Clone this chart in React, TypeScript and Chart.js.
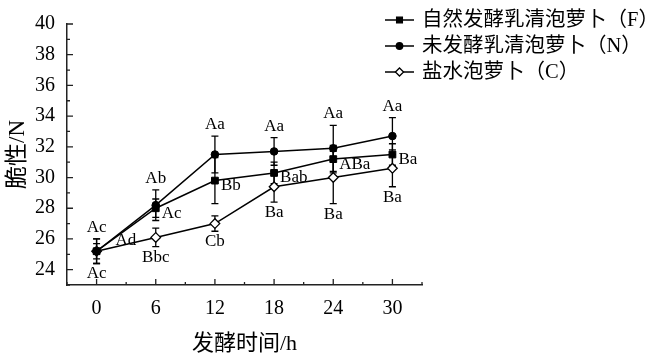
import React, { useEffect, useRef } from "react";
import { Chart, registerables } from "chart.js";

Chart.register(...registerables);

const hours = [0, 6, 12, 18, 24, 30];
const xTicks = [0, 6, 12, 18, 24, 30];
const yTicks = [24, 26, 28, 30, 32, 34, 36, 38, 40];

const seriesNames = ["自然发酵乳清泡萝卜（F）", "未发酵乳清泡萝卜（N）", "盐水泡萝卜（C）"];

const valuesF = [25.2, 28.0, 29.8, 30.3, 31.2, 31.5];
const valuesN = [25.2, 28.2, 31.5, 31.7, 31.9, 32.7];
const valuesC = [25.2, 26.1, 27.0, 29.4, 30.0, 30.6];

const errF = [0.5, 0.6, 1.5, 0.7, 0.9, 0.7];
const errN = [0.8, 1.0, 1.2, 0.9, 1.5, 1.2];
const errC = [0.8, 0.6, 0.5, 1.0, 1.7, 1.2];

const lettersF = ["Ad", "Ac", "Bb", "Bab", "ABa", "Ba"];
const lettersN = ["Ac", "Ab", "Aa", "Aa", "Aa", "Aa"];
const lettersC = ["Ac", "Bbc", "Cb", "Ba", "Ba", "Ba"];

const SERIF = '"Liberation Serif", "Noto Sans CJK SC", serif';

const errs = [errF, errN, errC];

const decorPlugin = {
  id: "decor",
  beforeDatasetsDraw(chart: any) {
    const ctx = chart.ctx;
    const xs = chart.scales.x;
    const ys = chart.scales.y;
    ctx.save();
    ctx.strokeStyle = "#000";
    ctx.lineWidth = 1.3;
    chart.data.datasets.forEach((ds: any, di: number) => {
      ds.data.forEach((p: any, i: number) => {
        const e = errs[di][i];
        const px = xs.getPixelForValue(p.x);
        const top = ys.getPixelForValue(p.y + e);
        const bot = ys.getPixelForValue(p.y - e);
        ctx.beginPath();
        ctx.moveTo(px, top);
        ctx.lineTo(px, bot);
        ctx.moveTo(px - 3.5, top);
        ctx.lineTo(px + 3.5, top);
        ctx.moveTo(px - 3.5, bot);
        ctx.lineTo(px + 3.5, bot);
        ctx.stroke();
      });
    });
    ctx.restore();
  },
  afterDraw(chart: any) {
    const ctx = chart.ctx;
    const xs = chart.scales.x;
    const ys = chart.scales.y;
    const area = chart.chartArea;
    ctx.save();
    ctx.strokeStyle = "#222";
    ctx.lineWidth = 1.3;
    ctx.beginPath();
    for (let v = -3; v <= 33; v += 3) {
      const px = xs.getPixelForValue(v);
      const len = v % 6 === 0 ? 6 : 3;
      ctx.moveTo(px, area.bottom);
      ctx.lineTo(px, area.bottom - len);
    }
    for (let v = 23; v <= 40; v += 1) {
      const py = ys.getPixelForValue(v);
      const len = v % 2 === 0 ? 6 : 3;
      ctx.moveTo(area.left, py);
      ctx.lineTo(area.left + len, py);
    }
    ctx.stroke();
    ctx.restore();

    ctx.save();
    ctx.fillStyle = "#000";
    ctx.font = "17px " + SERIF;
    chart.data.datasets[0].data.forEach((p: any, i: number) => {
      const px = xs.getPixelForValue(p.x);
      const py = ys.getPixelForValue(p.y);
      ctx.textAlign = "left";
      ctx.textBaseline = "middle";
      if (i === 0) ctx.fillText(lettersF[i], px + 19, py - 11);
      else ctx.fillText(lettersF[i], px + 6, py + 5);
    });
    chart.data.datasets[1].data.forEach((p: any, i: number) => {
      const px = xs.getPixelForValue(p.x);
      const py = ys.getPixelForValue(p.y + errN[i]);
      ctx.textAlign = "center";
      ctx.textBaseline = "bottom";
      ctx.fillText(lettersN[i], px, py - 3);
    });
    chart.data.datasets[2].data.forEach((p: any, i: number) => {
      const px = xs.getPixelForValue(p.x);
      const py = ys.getPixelForValue(p.y - errC[i]);
      ctx.textAlign = "center";
      ctx.textBaseline = "top";
      ctx.fillText(lettersC[i], px, py + 2);
    });
    ctx.restore();

    ctx.save();
    const rows = [20, 46, 72];
    chart.data.datasets.forEach((ds: any, di: number) => {
      const y = rows[di];
      ctx.strokeStyle = "#000";
      ctx.lineWidth = 1.5;
      ctx.beginPath();
      ctx.moveTo(385, y);
      ctx.lineTo(414, y);
      ctx.stroke();
      ctx.fillStyle = ds.pointBackgroundColor;
      ctx.lineWidth = 1.3;
      ctx.beginPath();
      const r = ds.pointRadius * 0.85;
      const cx = 399.5;
      if (ds.pointStyle === "rect") {
        const s = Math.SQRT1_2 * r;
        ctx.rect(cx - s, y - s, 2 * s, 2 * s);
      } else if (ds.pointStyle === "circle") {
        ctx.arc(cx, y, r, 0, Math.PI * 2);
      } else {
        ctx.moveTo(cx - r, y);
        ctx.lineTo(cx, y - r);
        ctx.lineTo(cx + r, y);
        ctx.lineTo(cx, y + r);
        ctx.closePath();
      }
      ctx.fill();
      ctx.stroke();
      ctx.fillStyle = "#000";
      ctx.font = "20.5px " + SERIF;
      ctx.textAlign = "left";
      ctx.textBaseline = "middle";
      ctx.fillText(ds.label, 422, y + 1);
    });
    ctx.restore();
  },
};

export default function App() {
  const ref = useRef<HTMLCanvasElement>(null);
  useEffect(() => {
    document.body.style.margin = "0";
    const mk = (vals: number[]) => vals.map((v, i) => ({ x: hours[i], y: v }));
    const chart = new Chart(ref.current as HTMLCanvasElement, {
      type: "line",
      data: {
        datasets: [
          {
            label: seriesNames[0],
            data: mk(valuesF),
            borderColor: "#000",
            borderWidth: 1.5,
            pointStyle: "rect",
            pointRadius: 4.8,
            pointBackgroundColor: "#000",
            pointBorderColor: "#000",
            pointBorderWidth: 1,
          },
          {
            label: seriesNames[1],
            data: mk(valuesN),
            borderColor: "#000",
            borderWidth: 1.5,
            pointStyle: "circle",
            pointRadius: 3.8,
            pointBackgroundColor: "#000",
            pointBorderColor: "#000",
            pointBorderWidth: 1,
          },
          {
            label: seriesNames[2],
            data: mk(valuesC),
            borderColor: "#000",
            borderWidth: 1.5,
            pointStyle: "rectRot",
            pointRadius: 4.8,
            pointBackgroundColor: "#fff",
            pointBorderColor: "#000",
            pointBorderWidth: 1.3,
          },
        ] as any,
      },
      options: {
        animation: false,
        responsive: false,
        devicePixelRatio: 1,
        layout: { padding: { left: 0, top: 11, right: 239, bottom: 0 } },
        plugins: { legend: { display: false }, tooltip: { enabled: false } },
        elements: { line: { tension: 0 } },
        scales: {
          x: {
            type: "linear",
            min: -3,
            max: 33,
            afterBuildTicks: (s: any) => {
              s.ticks = xTicks.map((v) => ({ value: v }));
            },
            afterFit: (s: any) => {
              s.height = 72;
            },
            grid: { display: false, drawTicks: false },
            border: { display: true, color: "#222", width: 1.5 },
            ticks: {
              color: "#000",
              font: { family: SERIF, size: 20 },
              padding: 12,
              maxRotation: 0,
            },
            title: {
              display: true,
              text: "发酵时间/h",
              color: "#000",
              font: { family: SERIF, size: 22 },
              padding: { top: 2, bottom: 0 },
            },
          },
          y: {
            type: "linear",
            min: 23,
            max: 40,
            afterBuildTicks: (s: any) => {
              s.ticks = yTicks.map((v) => ({ value: v }));
            },
            afterFit: (s: any) => {
              s.width = 67;
            },
            grid: { display: false, drawTicks: false },
            border: { display: true, color: "#222", width: 1.5 },
            ticks: {
              color: "#000",
              font: { family: SERIF, size: 20 },
              padding: 12,
            },
            title: {
              display: true,
              text: "脆性/N",
              color: "#000",
              font: { family: SERIF, size: 23 },
              padding: { top: 4, bottom: 0 },
            },
          },
        },
      } as any,
      plugins: [decorPlugin],
    });
    return () => chart.destroy();
  }, []);
  return (
    <div style={{ position: "absolute", left: 0, top: 0, width: 661, height: 357, background: "#fff" }}>
      <canvas ref={ref} width={661} height={357} style={{ width: 661, height: 357 }} />
    </div>
  );
}
